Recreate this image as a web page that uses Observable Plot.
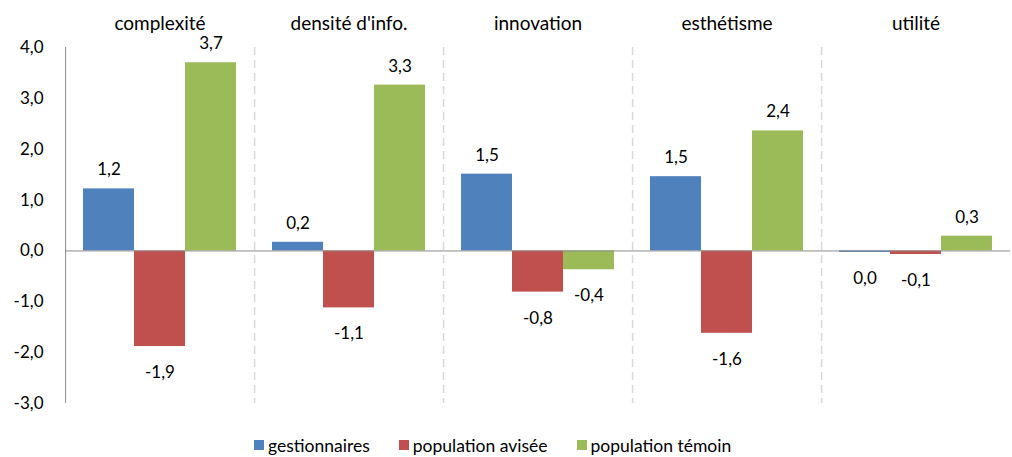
<!DOCTYPE html>
<html>
<head>
<meta charset="utf-8">
<script src="https://cdn.jsdelivr.net/npm/d3@7"></script>
<script src="https://cdn.jsdelivr.net/npm/@observablehq/plot@0.6"></script>
<style>
  body { margin: 0; background: #fff; font-family: Lato, "Open Sans", sans-serif; }
  #chart svg { display: block; }
  #legend { display: flex; align-items: center; margin-left: 254px; height: 60px; font-size: 17.5px; color: #000; }
  #legend .item { display: flex; align-items: center; margin-right: 29px; }
  #legend .sw { width: 10px; height: 10px; margin-right: 4px; }
</style>
</head>
<body>
<div id="chart"></div>
<div id="legend"></div>
<script>
const categories = ["complexité", "densité d'info.", "innovation", "esthétisme", "utilité"];
const series = ["gestionnaires", "population avisée", "population témoin"];
const gestionnaires = [1.22, 0.17, 1.51, 1.46, -0.03];
const populationAvisee = [-1.88, -1.12, -0.81, -1.62, -0.07];
const populationTemoin = [3.70, 3.26, -0.37, 2.36, 0.29];
const colors = ["#4F81BD", "#C0504D", "#9BBB59"];
const yTicks = [-3, -2, -1, 0, 1, 2, 3, 4];

const valuesBySeries = [gestionnaires, populationAvisee, populationTemoin];
const data = categories.flatMap((c, i) =>
  series.map((s, j) => ({category: c, series: s, value: valuesBySeries[j][i]}))
);
const fmt = v => (Math.round(v * 10) / 10).toFixed(1).replace(".", ",");

const font = "Lato, 'Open Sans', sans-serif";
const edge = 43.4;

const chart = Plot.plot({
  width: 1012,
  height: 415,
  marginLeft: 65,
  marginRight: 2,
  marginTop: 47,
  marginBottom: 12,
  style: {fontFamily: font, fontSize: "17px", color: "#000", background: "#fff"},
  fx: {domain: categories, padding: 0, label: null},
  x: {domain: series, paddingInner: 0, paddingOuter: 0.35, axis: null},
  y: {domain: [-3, 4], label: null},
  color: {domain: series, range: colors},
  marks: [
    Plot.axisFx({anchor: "top", tickSize: 0, tickPadding: 18, fontSize: 19, label: null}),
    Plot.axisY({ticks: yTicks, tickFormat: d => d.toFixed(1).replace(".", ","), tickSize: 0, tickPadding: 22, fontSize: 17, label: null}),
    Plot.ruleX(categories.slice(1), {fx: d => d, x: () => series[0], dx: -edge, stroke: "#d9d9d9", strokeWidth: 1.5, strokeDasharray: "8,5"}),
    Plot.barY(data, {fx: "category", x: "series", y: "value", fill: "series"}),
    Plot.ruleY([0], {stroke: "#8c8c8c", strokeWidth: 1}),
    Plot.ruleX(categories.slice(0, 1), {fx: d => d, x: () => series[0], dx: -edge, stroke: "#8c8c8c", strokeWidth: 1}),
    Plot.text(data.filter(d => d.value >= 0), {fx: "category", x: "series", y: "value", text: d => fmt(d.value), dy: -19, lineAnchor: "middle", fontSize: 17, fill: "#000"}),
    Plot.text(data.filter(d => d.value < 0), {fx: "category", x: "series", y: "value", text: d => fmt(d.value), dy: 26, lineAnchor: "middle", fontSize: 17, fill: "#000"})
  ]
});
document.getElementById("chart").append(chart);

const legend = document.getElementById("legend");
series.forEach((s, i) => {
  const item = document.createElement("div");
  item.className = "item";
  const sw = document.createElement("span");
  sw.className = "sw";
  sw.style.background = colors[i];
  const label = document.createElement("span");
  label.textContent = s;
  item.append(sw, label);
  legend.append(item);
});
</script>
</body>
</html>
